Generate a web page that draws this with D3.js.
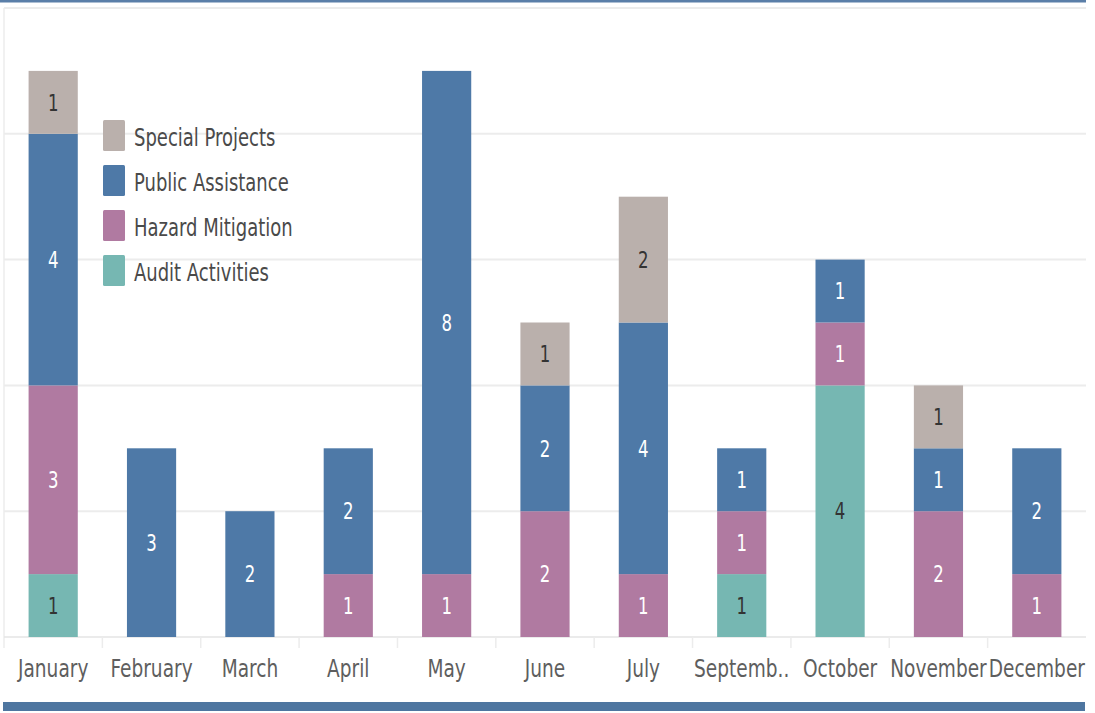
<!DOCTYPE html>
<html>
<head>
<meta charset="utf-8">
<script src="https://cdn.jsdelivr.net/npm/d3@7"></script>
<style>
  body { margin: 0; background: #fff; }
  svg { display: block; }
</style>
</head>
<body>
<div id="chart"></div>
<script>
const months = ["January", "February", "March", "April", "May", "June", "July", "Septemb..", "October", "November", "December"];
const seriesNames = ["Audit Activities", "Hazard Mitigation", "Public Assistance", "Special Projects"];
const auditActivities   = [1, 0, 0, 0, 0, 0, 0, 1, 4, 0, 0];
const hazardMitigation  = [3, 0, 0, 1, 1, 2, 1, 1, 1, 2, 1];
const publicAssistance  = [4, 3, 2, 2, 8, 2, 4, 1, 1, 1, 2];
const specialProjects   = [1, 0, 0, 0, 0, 1, 2, 0, 0, 1, 0];
const yTicks = [0, 2, 4, 6, 8, 10];

const colors = {
    "Special Projects": "#bab0ac",
    "Public Assistance": "#4e79a7",
    "Hazard Mitigation": "#b07aa1",
    "Audit Activities": "#76b7b2"
};
const labelColors = {
    "Special Projects": "#333",
    "Public Assistance": "#fff",
    "Hazard Mitigation": "#fff",
    "Audit Activities": "#333"
};

const W = 1095, H = 713;
const font = "'DejaVu Sans Condensed', 'DejaVu Sans', sans-serif";

const rows = months.map((m, i) => ({
    month: m,
    "Audit Activities": auditActivities[i],
    "Hazard Mitigation": hazardMitigation[i],
    "Public Assistance": publicAssistance[i],
    "Special Projects": specialProjects[i]
}));
const stacked = d3.stack().keys(seriesNames)(rows);

const svg = d3.select("#chart").append("svg")
    .attr("width", W)
    .attr("height", H);

const x = d3.scaleBand().domain(months).range([4, 1086]).paddingInner(0.5).paddingOuter(0.25);
const y = d3.scaleLinear().domain([0, 10]).range([637, 8]);
const gap = (x.step() - x.bandwidth()) / 2;

// top border
svg.append("rect").attr("x", 0).attr("y", 0).attr("width", 1086).attr("height", 2.5).attr("fill", "#5a7ea8");

// gridlines
svg.append("g")
   .selectAll("line")
   .data(yTicks.slice(1))
   .enter()
   .append("line")
   .attr("x1", 4).attr("x2", 1086)
   .attr("y1", d => y(d)).attr("y2", d => y(d))
   .attr("stroke", "#ececec")
   .attr("stroke-width", 2);

// left axis line
svg.append("line")
   .attr("x1", 4).attr("x2", 4)
   .attr("y1", y(10)).attr("y2", 648)
   .attr("stroke", "#ececec").attr("stroke-width", 1.5);

// baseline
svg.append("line")
   .attr("x1", 4).attr("x2", 1086)
   .attr("y1", y(0)).attr("y2", y(0))
   .attr("stroke", "#e4e4e4").attr("stroke-width", 1.5);

// separators between months
svg.append("g")
   .selectAll("line")
   .data(months.slice(1))
   .enter()
   .append("line")
   .attr("x1", d => x(d) - gap)
   .attr("x2", d => x(d) - gap)
   .attr("y1", y(0)).attr("y2", 648)
   .attr("stroke", "#ececec").attr("stroke-width", 1.5);

// bars
const layer = svg.selectAll(".layer")
    .data(stacked)
    .enter()
    .append("g")
    .attr("class", "layer")
    .attr("fill", d => colors[d.key]);

layer.selectAll("rect")
    .data(d => d.map(v => ({ key: d.key, v })).filter(e => e.v[1] - e.v[0] > 0))
    .enter()
    .append("rect")
    .attr("x", d => x(d.v.data.month))
    .attr("y", d => y(d.v[1]))
    .attr("width", x.bandwidth())
    .attr("height", d => y(d.v[0]) - y(d.v[1]));

layer.selectAll("text")
    .data(d => d.map(v => ({ key: d.key, v })).filter(e => e.v[1] - e.v[0] > 0))
    .enter()
    .append("text")
    .attr("transform", d => `translate(${x(d.v.data.month) + x.bandwidth() / 2},${(y(d.v[0]) + y(d.v[1])) / 2}) scale(0.8,1)`)
    .attr("dy", "0.36em")
    .attr("text-anchor", "middle")
    .attr("fill", d => labelColors[d.key])
    .style("font-family", font)
    .style("font-size", "23px")
    .text(d => d.v[1] - d.v[0]);

// month labels
svg.append("g")
   .selectAll("text")
   .data(months)
   .enter()
   .append("text")
   .attr("transform", d => `translate(${x(d) + x.bandwidth() / 2},668) scale(0.86,1)`)
   .attr("dy", "0.36em")
   .attr("text-anchor", "middle")
   .attr("fill", "#5e5e5e")
   .style("font-family", font)
   .style("font-size", "24px")
   .text(d => d);

// legend
const legendOrder = ["Special Projects", "Public Assistance", "Hazard Mitigation", "Audit Activities"];
const legend = svg.append("g").selectAll("g")
    .data(legendOrder)
    .enter()
    .append("g")
    .attr("transform", (d, i) => `translate(103, ${120 + i * 45})`);

legend.append("rect")
    .attr("width", 22).attr("height", 31).attr("rx", 1.5)
    .attr("fill", d => colors[d]);

legend.append("text")
    .attr("transform", "translate(31,17) scale(0.8,1)")
    .attr("dy", "0.36em")
    .attr("fill", "#4a4a4a")
    .style("font-family", font)
    .style("font-size", "25px")
    .text(d => d);

// bottom bar
svg.append("rect").attr("x", 3).attr("y", 702).attr("width", 1082).attr("height", 9).attr("fill", "#4e76a0");
</script>
</body>
</html>
